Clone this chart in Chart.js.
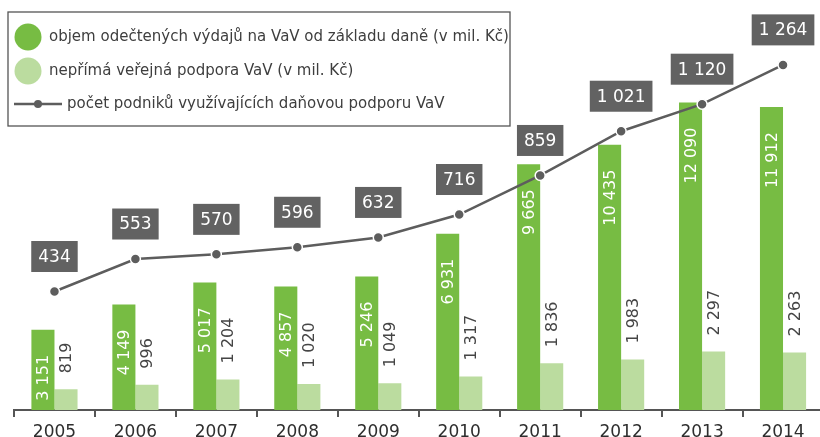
<!DOCTYPE html>
<html>
<head>
<meta charset="utf-8">
<script src="https://cdn.jsdelivr.net/npm/chart.js@4/dist/chart.umd.min.js"></script>
<style>
  html, body { margin: 0; padding: 0; background: #fff; overflow: hidden; }
  #wrap { width: 820px; height: 437px; overflow: hidden; }
</style>
</head>
<body>
<div id="wrap"><canvas id="chart" width="830" height="437"></canvas></div>
<script>
const years = ['2005', '2006', '2007', '2008', '2009', '2010', '2011', '2012', '2013', '2014']
const deducted = [3151, 4149, 5017, 4857, 5246, 6931, 9665, 10435, 12090, 11912]
const indirect = [819, 996, 1204, 1020, 1049, 1317, 1836, 1983, 2297, 2263]
const firms = [434, 553, 570, 596, 632, 716, 859, 1021, 1120, 1264]

const FONT = '"DejaVu Sans", sans-serif'
const DARK = '#77bc43'
const LIGHT = '#bbdc9f'
const GREY = '#5d5d5d'

const fmt = v => String(v).replace(/\B(?=(\d{3})+(?!\d))/g, ' ')

// values on the bars and boxed counts above the line
const labelsPlugin = {
  id: 'valueLabels',
  afterDatasetsDraw (chart) {
    const ctx = chart.ctx
    ctx.save()
    ctx.font = '16px ' + FONT
    ctx.textBaseline = 'middle'

    chart.getDatasetMeta(0).data.forEach((bar, i) => {
      ctx.save()
      ctx.translate(bar.x, bar.y + 25)
      ctx.rotate(-Math.PI / 2)
      ctx.textAlign = 'right'
      ctx.fillStyle = '#ffffff'
      ctx.fillText(fmt(deducted[i]), 0, 1)
      ctx.restore()
    })

    chart.getDatasetMeta(1).data.forEach((bar, i) => {
      ctx.save()
      ctx.translate(bar.x, bar.y - 16)
      ctx.rotate(-Math.PI / 2)
      ctx.textAlign = 'left'
      ctx.fillStyle = '#454545'
      ctx.fillText(fmt(indirect[i]), 0, 1)
      ctx.restore()
    })

    ctx.font = '17px ' + FONT
    ctx.textAlign = 'center'
    chart.getDatasetMeta(2).data.forEach((pt, i) => {
      const txt = fmt(firms[i])
      const w = ctx.measureText(txt).width + 14
      const h = 31
      const cy = pt.y - 35
      ctx.fillStyle = '#626262'
      ctx.fillRect(pt.x - w / 2, cy - h / 2, w, h)
      ctx.fillStyle = '#ffffff'
      ctx.fillText(txt, pt.x, cy + 1)
    })
    ctx.restore()
  }
}

// framed legend in the upper left corner
const legendPlugin = {
  id: 'boxLegend',
  afterDraw (chart) {
    const ctx = chart.ctx
    const ds = chart.data.datasets
    ctx.save()
    ctx.fillStyle = '#ffffff'
    ctx.fillRect(8, 12, 502, 114)
    ctx.strokeStyle = '#555555'
    ctx.lineWidth = 1.3
    ctx.strokeRect(8, 12, 502, 114)

    ctx.font = '15px ' + FONT
    ctx.textBaseline = 'middle'
    ctx.textAlign = 'left'

    ctx.fillStyle = ds[0].backgroundColor
    ctx.beginPath(); ctx.arc(28, 37, 13.5, 0, Math.PI * 2); ctx.fill()
    ctx.fillStyle = ds[1].backgroundColor
    ctx.beginPath(); ctx.arc(28, 71, 13.5, 0, Math.PI * 2); ctx.fill()

    ctx.strokeStyle = GREY
    ctx.lineWidth = 2.5
    ctx.beginPath(); ctx.moveTo(14, 104); ctx.lineTo(62, 104); ctx.stroke()
    ctx.fillStyle = GREY
    ctx.beginPath(); ctx.arc(38, 104, 4, 0, Math.PI * 2); ctx.fill()

    ctx.fillStyle = '#3e3e3e'
    ctx.fillText(ds[0].label, 49, 37)
    ctx.fillText(ds[1].label, 49, 71)
    ctx.fillText(ds[2].label, 67, 104)
    ctx.restore()
  }
}

const ctx = document.getElementById('chart').getContext('2d')
// eslint-disable-next-line
new Chart(ctx, {
  type: 'bar',
  data: {
    labels: years,
    datasets: [
      {
        label: 'objem odečtených výdajů na VaV od základu daně (v mil. Kč)',
        data: deducted,
        backgroundColor: DARK,
        yAxisID: 'y',
        order: 2
      },
      {
        label: 'nepřímá veřejná podpora VaV (v mil. Kč)',
        data: indirect,
        backgroundColor: LIGHT,
        yAxisID: 'y',
        order: 2
      },
      {
        type: 'line',
        label: 'počet podniků využívajících daňovou podporu VaV',
        data: firms,
        yAxisID: 'y2',
        borderColor: GREY,
        borderWidth: 2.5,
        pointRadius: 5,
        pointBackgroundColor: GREY,
        pointBorderColor: '#ffffff',
        pointBorderWidth: 1.5,
        tension: 0,
        order: 1
      }
    ]
  },
  options: {
    responsive: false,
    animation: false,
    devicePixelRatio: 1,
    layout: { padding: { top: 10, left: 14, right: 3, bottom: 0 } },
    datasets: {
      bar: { categoryPercentage: 0.57, barPercentage: 1 }
    },
    plugins: {
      legend: { display: false },
      tooltip: { enabled: false }
    },
    scales: {
      x: {
        grid: {
          display: true,
          drawOnChartArea: false,
          drawTicks: true,
          tickLength: 7,
          offset: true,
          color: '#555555',
          lineWidth: 2
        },
        border: { color: '#555555', width: 2 },
        ticks: {
          color: '#2e2e2e',
          font: { family: FONT, size: 17 },
          padding: 5
        },
        afterFit (scale) { scale.height = 27 }
      },
      y: { display: false, min: 0, max: 15730 },
      y2: { display: false, min: 0, max: 1465 }
    }
  },
  plugins: [labelsPlugin, legendPlugin]
})
</script>
</body>
</html>
